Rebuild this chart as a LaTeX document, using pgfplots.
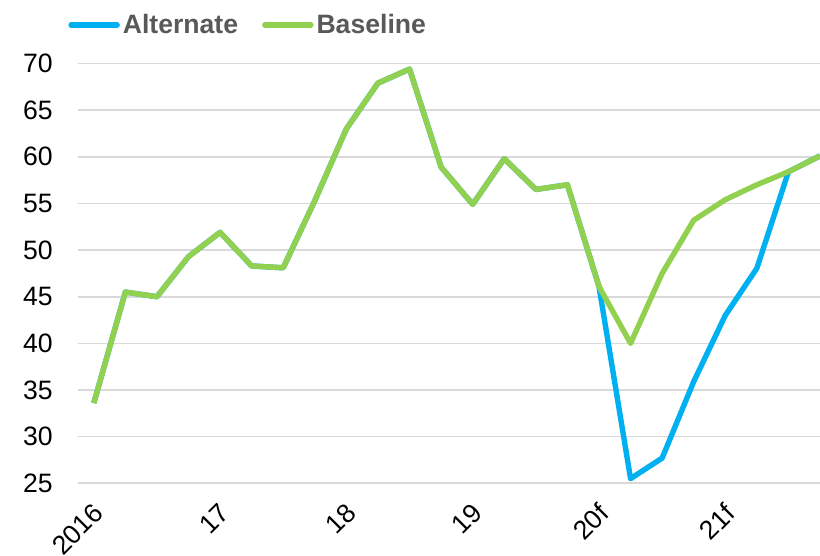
\documentclass[border=0pt]{standalone}
\usepackage{pgfplots}
\pgfplotsset{compat=1.18}
\usepackage{fontspec}
\setmainfont{Liberation Sans}
\definecolor{altblue}{HTML}{00B0F0}
\definecolor{basegreen}{HTML}{92D050}
\definecolor{gridgrey}{HTML}{D9D9D9}
\definecolor{legendgrey}{HTML}{595959}
\begin{document}
\begin{tikzpicture}
\begin{axis}[
  scale only axis,
  width=371pt, height=209.9pt,
  xmin=-0.5, xmax=23,
  ymin=25, ymax=70,
  ytick={25,30,...,70},
  xtick={0,4,8,12,16,20},
  xticklabels={2016,17,18,19,20f,21f},
  axis line style={draw=none},
  major tick length=0pt,
  ymajorgrids=true,
  grid style={gridgrey, line width=0.8pt},
  /pgf/number format/assume math mode=true,
  tick label style={font=\fontsize{13.3}{16}\selectfont, text=black},
  yticklabel style={inner sep=0pt, anchor=east},
  yticklabel shift=12.5pt,
  xticklabel style={inner sep=0pt, xshift=-1pt, rotate=45, anchor=north east},
  xticklabel shift=9pt,
  legend columns=2,
  legend style={at={(axis description cs:-0.0215,1.092)}, anchor=west,
    draw=none, fill=none,
    font=\fontsize{13.3}{16}\selectfont\bfseries,
    text=legendgrey,
    /tikz/every even column/.append style={column sep=10.5pt},
    nodes={inner sep=1.5pt}},
  legend image code/.code={\draw[#1, line cap=round] (0pt,0pt) -- (23pt,0pt);},
  clip=false,
]
\addplot[altblue, line width=2.7pt, line join=round] coordinates {
(0,33.6) (1,45.5) (2,45.0) (3,49.3) (4,51.9) (5,48.3) (6,48.1) (7,55.3)
(8,63.0) (9,67.9) (10,69.4) (11,58.9) (12,54.9) (13,59.8) (14,56.5) (15,57.0)
(16,46.1) (17,25.5) (18,27.7) (19,35.9) (20,43.0) (21,48.05) (22,58.4) (23,60.1)
};
\addlegendentry{Alternate}
\addplot[basegreen, line width=2.7pt, line join=round] coordinates {
(0,33.6) (1,45.5) (2,45.0) (3,49.3) (4,51.9) (5,48.3) (6,48.1) (7,55.3)
(8,63.0) (9,67.9) (10,69.4) (11,58.9) (12,54.9) (13,59.8) (14,56.5) (15,57.0)
(16,46.1) (17,40.0) (18,47.5) (19,53.2) (20,55.4) (21,57.0) (22,58.4) (23,60.1)
};
\addlegendentry{Baseline}
\end{axis}
\pgfresetboundingbox
\path (-39pt,-36.35pt) rectangle (371pt,241.65pt);
\end{tikzpicture}
\end{document}
